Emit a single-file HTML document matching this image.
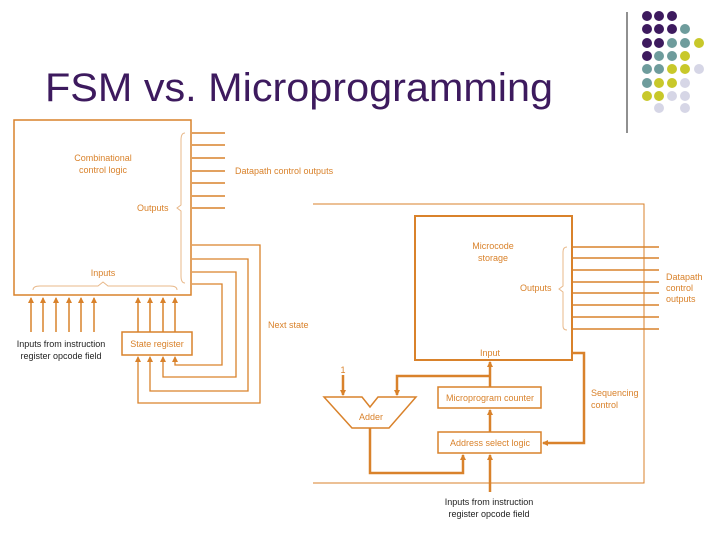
<!DOCTYPE html>
<html><head><meta charset="utf-8"><style>
html,body{margin:0;padding:0;background:#fff;width:720px;height:540px;overflow:hidden}
svg{display:block}
text{font-family:"Liberation Sans",sans-serif}
</style></head><body>
<svg width="720" height="540" viewBox="0 0 720 540" xmlns="http://www.w3.org/2000/svg">
<defs>
<marker id="a" markerWidth="6" markerHeight="6" refX="5" refY="3" orient="auto" markerUnits="userSpaceOnUse"><path d="M0,0 L6,3 L0,6 z" fill="#d9822b"/></marker>
</defs>
<text x="45" y="101" font-size="40" fill="#3d1a5e" textLength="508" lengthAdjust="spacingAndGlyphs">FSM vs. Microprogramming</text>
<line x1="627" y1="12" x2="627" y2="133" stroke="#222" stroke-width="1"/>
<g>
<circle cx="647" cy="16" r="5" fill="#3d1a5e"/><circle cx="659" cy="16" r="5" fill="#3d1a5e"/><circle cx="672" cy="16" r="5" fill="#3d1a5e"/>
<circle cx="647" cy="29" r="5" fill="#3d1a5e"/><circle cx="659" cy="29" r="5" fill="#3d1a5e"/><circle cx="672" cy="29" r="5" fill="#3d1a5e"/><circle cx="685" cy="29" r="5" fill="#6e9c9c"/>
<circle cx="647" cy="43" r="5" fill="#3d1a5e"/><circle cx="659" cy="43" r="5" fill="#3d1a5e"/><circle cx="672" cy="43" r="5" fill="#6e9c9c"/><circle cx="685" cy="43" r="5" fill="#6e9c9c"/><circle cx="699" cy="43" r="5" fill="#c8c82a"/>
<circle cx="647" cy="56" r="5" fill="#3d1a5e"/><circle cx="659" cy="56" r="5" fill="#6e9c9c"/><circle cx="672" cy="56" r="5" fill="#6e9c9c"/><circle cx="685" cy="56" r="5" fill="#c8c82a"/>
<circle cx="647" cy="69" r="5" fill="#6e9c9c"/><circle cx="659" cy="69" r="5" fill="#6e9c9c"/><circle cx="672" cy="69" r="5" fill="#c8c82a"/><circle cx="685" cy="69" r="5" fill="#c8c82a"/><circle cx="699" cy="69" r="5" fill="#d6d6e6"/>
<circle cx="647" cy="83" r="5" fill="#6e9c9c"/><circle cx="659" cy="83" r="5" fill="#c8c82a"/><circle cx="672" cy="83" r="5" fill="#c8c82a"/><circle cx="685" cy="83" r="5" fill="#d6d6e6"/>
<circle cx="647" cy="96" r="5" fill="#c8c82a"/><circle cx="659" cy="96" r="5" fill="#c8c82a"/><circle cx="672" cy="96" r="5" fill="#d6d6e6"/><circle cx="685" cy="96" r="5" fill="#d6d6e6"/>
<circle cx="659" cy="108" r="5" fill="#d6d6e6"/><circle cx="685" cy="108" r="5" fill="#d6d6e6"/>
</g>
<g fill="none" stroke="#d9822b" stroke-width="1.5">
<rect x="14" y="120" width="177" height="175"/>
<path d="M192 133H225M192 145H225M192 158H225M192 171H225M192 183H225M192 196H225M192 208H225"/>
<path d="M192 245H260V403H138V357" stroke-width="1.3" marker-end="url(#a)"/>
<path d="M192 259H248V391H150V357" stroke-width="1.3" marker-end="url(#a)"/>
<path d="M192 272H236V377H163V357" stroke-width="1.3" marker-end="url(#a)"/>
<path d="M192 284H222V365H175V357" stroke-width="1.3" marker-end="url(#a)"/>
<rect x="122" y="332" width="70" height="23"/>
<path d="M31 332V298" marker-end="url(#a)"/>
<path d="M43 332V298" marker-end="url(#a)"/>
<path d="M56 332V298" marker-end="url(#a)"/>
<path d="M69 332V298" marker-end="url(#a)"/>
<path d="M81 332V298" marker-end="url(#a)"/>
<path d="M94 332V298" marker-end="url(#a)"/>
<path d="M138 332V298" marker-end="url(#a)"/>
<path d="M150 332V298" marker-end="url(#a)"/>
<path d="M163 332V298" marker-end="url(#a)"/>
<path d="M175 332V298" marker-end="url(#a)"/>
<path d="M313 204H644V483H313" stroke-width="1"/>
<rect x="415" y="216" width="157" height="144" stroke-width="2"/>
<path d="M572 247H659M572 258H659M572 270H659M572 282H659M572 293H659M572 305H659M572 317H659M572 329H659"/>
<path d="M572 353H584V443H543" stroke-width="2.5" marker-end="url(#a)"/>
<rect x="438" y="387" width="103" height="21"/>
<rect x="438" y="432" width="103" height="21"/>
<path d="M490 432V410" stroke-width="2.5" marker-end="url(#a)"/>
<path d="M490 387V362" stroke-width="2.5" marker-end="url(#a)"/>
<path d="M490 376H397V395" stroke-width="2.5" marker-end="url(#a)"/>
<path d="M343 375V395" stroke-width="2.5" marker-end="url(#a)"/>
<path d="M324 397H362L370 407L378 397H416L389 428H352Z"/>
<path d="M370 428V473H463V455" stroke-width="2.5" marker-end="url(#a)"/>
<path d="M490 492V455" stroke-width="2.5" marker-end="url(#a)"/>
</g>
<g fill="none" stroke="#e8b889" stroke-width="1">
<path d="M185 133Q181 133 181 140V205L177 208L181 211V276Q181 283 185 283"/>
<path d="M33 290Q33 286 40 286H98L103 282L108 286H170Q177 286 177 290"/>
<path d="M567 247Q563 247 563 252V286L559 289L563 292V326Q563 330 567 330"/>
</g>
<g font-size="9" fill="#d9822b">
<text x="103" y="161" text-anchor="middle">Combinational</text>
<text x="103" y="173" text-anchor="middle">control logic</text>
<text x="137" y="211">Outputs</text>
<text x="235" y="174">Datapath control outputs</text>
<text x="103" y="276" text-anchor="middle">Inputs</text>
<text x="157" y="347" text-anchor="middle">State register</text>
<text x="268" y="328">Next state</text>
<text x="493" y="249" text-anchor="middle">Microcode</text>
<text x="493" y="261" text-anchor="middle">storage</text>
<text x="520" y="291">Outputs</text>
<text x="666" y="280">Datapath</text>
<text x="666" y="291">control</text>
<text x="666" y="302">outputs</text>
<text x="490" y="356" text-anchor="middle">Input</text>
<text x="591" y="396">Sequencing</text>
<text x="591" y="408">control</text>
<text x="490" y="401" text-anchor="middle">Microprogram counter</text>
<text x="490" y="446" text-anchor="middle">Address select logic</text>
<text x="371" y="420" text-anchor="middle">Adder</text>
<text x="343" y="373" text-anchor="middle">1</text>
</g>
<g font-size="9" fill="#222">
<text x="61" y="347" text-anchor="middle">Inputs from instruction</text>
<text x="61" y="359" text-anchor="middle">register opcode field</text>
<text x="489" y="505" text-anchor="middle">Inputs from instruction</text>
<text x="489" y="517" text-anchor="middle">register opcode field</text>
</g>
</svg>
</body></html>
